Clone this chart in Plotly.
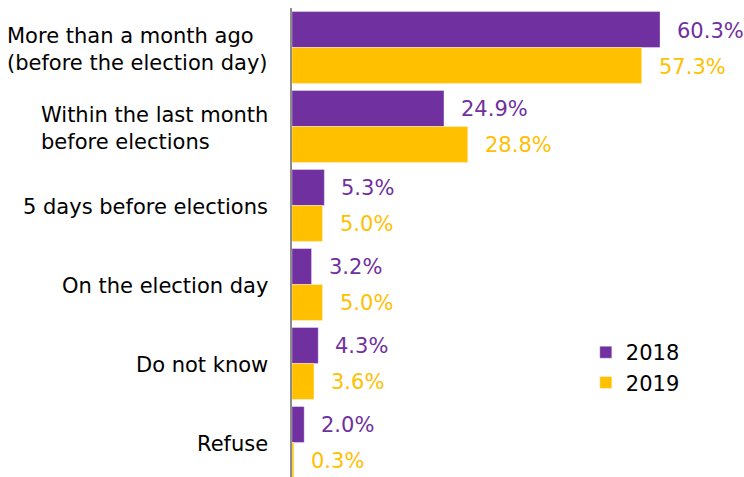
import plotly.graph_objects as go

categories = [
    "More than a month ago<br>(before the election day)",
    "Within the last month<br>before elections",
    "5 days before elections",
    "On the election day",
    "Do not know",
    "Refuse",
]
values_2018 = [60.3, 24.9, 5.3, 3.2, 4.3, 2.0]
values_2019 = [57.3, 28.8, 5.0, 5.0, 3.6, 0.3]

PURPLE = "#7030A0"
YELLOW = "#FFC000"
FONT = "DejaVu Sans"

fig = go.Figure()
fig.add_trace(go.Bar(
    name="2018", y=categories, x=values_2018, orientation="h",
    marker=dict(color=PURPLE, line=dict(color="rgba(255,255,255,0.6)", width=0.6)),
))
fig.add_trace(go.Bar(
    name="2019", y=categories, x=values_2019, orientation="h",
    marker=dict(color=YELLOW, line=dict(color="rgba(255,255,255,0.6)", width=0.6)),
))

annotations = []
# value labels to the right of each bar
for cat, v18, v19 in zip(categories, values_2018, values_2019):
    annotations.append(dict(
        x=v18, y=cat, xref="x", yref="y", text=f"{v18:.1f}%",
        showarrow=False, xanchor="left", xshift=15, yshift=17,
        font=dict(family=FONT, size=21, color=PURPLE),
    ))
    annotations.append(dict(
        x=v19, y=cat, xref="x", yref="y", text=f"{v19:.1f}%",
        showarrow=False, xanchor="left", xshift=15, yshift=-19,
        font=dict(family=FONT, size=21, color=YELLOW),
    ))
    # category names, left-aligned block ending near the axis
    annotations.append(dict(
        x=0, y=cat, xref="x", yref="y", text=cat,
        showarrow=False, xanchor="right", align="left", xshift=-22, yshift=-2,
        font=dict(family=FONT, size=21, color="black"),
    ))

fig.update_layout(
    width=744, height=477,
    margin=dict(l=292, r=0, t=8, b=0),
    paper_bgcolor="white", plot_bgcolor="white",
    barmode="group", bargap=0.09, bargroupgap=0,
    font=dict(family=FONT, size=21, color="black"),
    xaxis=dict(range=[0, 74.06], visible=False, fixedrange=True),
    yaxis=dict(
        range=[5.437, -0.5], showticklabels=False, ticks="",
        showline=True, linecolor="#8c8c8c", linewidth=2, showgrid=False,
        zeroline=False,
    ),
    legend=dict(
        x=0.65, y=0.309, xanchor="left", yanchor="top",
        font=dict(family=FONT, size=21, color="black"),
        bgcolor="rgba(0,0,0,0)", tracegroupgap=0, itemwidth=30,
    ),
    annotations=annotations,
    showlegend=True,
)

fig.write_html("out.html")
